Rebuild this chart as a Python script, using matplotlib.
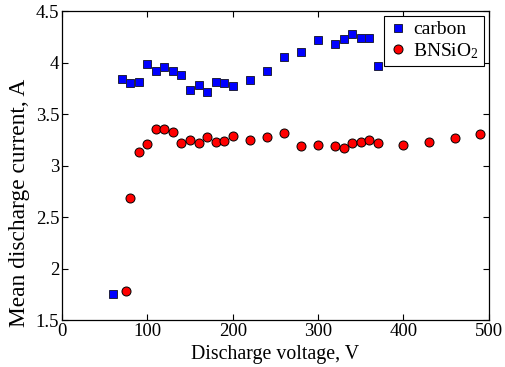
import matplotlib
matplotlib.use("Agg")
import matplotlib.pyplot as plt

plt.rcParams['font.family'] = ['Liberation Serif', 'DejaVu Serif']
plt.rcParams['mathtext.fontset'] = 'custom'
plt.rcParams['mathtext.rm'] = 'Liberation Serif'
plt.rcParams['mathtext.it'] = 'Liberation Serif:italic'

carbon_v = [60, 70, 80, 90, 100, 110, 120, 130, 140, 150, 160, 170, 180, 190, 200,
            220, 240, 260, 280, 300, 320, 330, 340, 350, 360, 370]
carbon_i = [1.75, 3.84, 3.80, 3.81, 3.99, 3.92, 3.96, 3.92, 3.88, 3.73, 3.78, 3.71, 3.81, 3.80, 3.77,
            3.83, 3.92, 4.05, 4.10, 4.22, 4.18, 4.23, 4.28, 4.24, 4.24, 3.97]

bn_v = [75, 80, 90, 100, 110, 120, 130, 140, 150, 160, 170, 180, 190, 200,
        220, 240, 260, 280, 300, 320, 330, 340, 350, 360, 370, 400, 430, 460, 490]
bn_i = [1.78, 2.68, 3.13, 3.21, 3.35, 3.35, 3.33, 3.22, 3.25, 3.22, 3.28, 3.23, 3.24, 3.29,
        3.25, 3.28, 3.32, 3.19, 3.20, 3.19, 3.17, 3.22, 3.23, 3.25, 3.22, 3.20, 3.23, 3.27, 3.31]

fig = plt.figure(figsize=(5.06, 3.67), dpi=100)
ax = fig.add_axes([0.1225, 0.128, 0.8435, 0.842])

ax.plot(carbon_v, carbon_i, linestyle='none', marker='s', markersize=5.2,
        markerfacecolor='#0000ff', markeredgecolor='#202040', markeredgewidth=0.7, label='carbon')
ax.plot(bn_v, bn_i, linestyle='none', marker='o', markersize=6.5,
        markerfacecolor='#ff0000', markeredgecolor='black', markeredgewidth=0.7, label='BNSiO$_2$')

ax.set_xlim(0, 500)
ax.set_ylim(1.5, 4.5)
ax.set_xticks([0, 100, 200, 300, 400, 500])
ax.set_yticks([1.5, 2, 2.5, 3, 3.5, 4, 4.5])
ax.set_yticklabels(['1.5', '2', '2.5', '3', '3.5', '4', '4.5'])
ax.tick_params(direction='in', top=True, right=True, labelsize=13.5, length=4.5, width=0.8, pad=2)
for s in ax.spines.values():
    s.set_linewidth(0.9)

ax.set_xlabel('Discharge voltage, V', fontsize=14.3)
ax.set_ylabel('Mean discharge current, A', fontsize=16.8)
ax.xaxis.set_label_coords(0.5, -0.08)
ax.yaxis.set_label_coords(-0.075, 0.378)

leg = ax.legend(loc='upper right', fontsize=14, frameon=True, fancybox=False,
                edgecolor='black', framealpha=1, handlelength=0.9, handletextpad=0.35,
                borderaxespad=0.25, borderpad=0.25, labelspacing=0.15)
leg.get_frame().set_linewidth(0.8)

fig.savefig('out.png', dpi=100)
